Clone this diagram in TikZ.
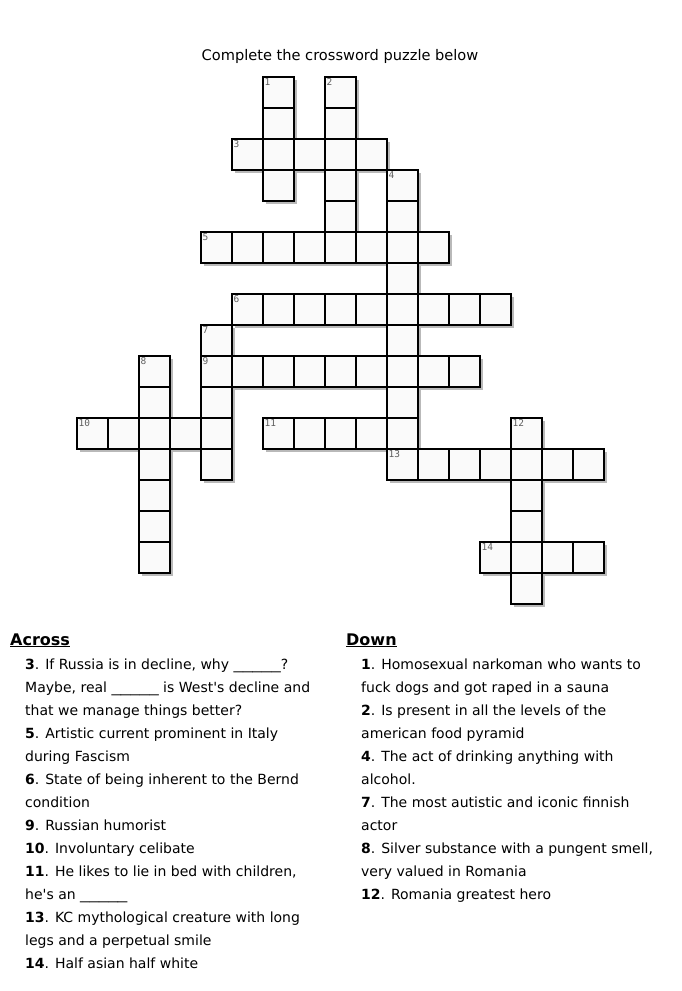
\documentclass[tikz,border=0pt]{standalone}
\usepackage{fontspec}
\setmainfont{DejaVu Sans}
\newfontfamily\numfont{DejaVu Sans Mono}
\usetikzlibrary{positioning}

\newcommand\gridcells{0/{6,8},1/{6,8},2/{5,6,7,8,9},3/{6,8,10},4/{8,10},5/{4,5,6,7,8,9,10,11},6/{10},7/{5,6,7,8,9,10,11,12,13},8/{4,10},9/{2,4,5,6,7,8,9,10,11,12},10/{2,4,10},11/{0,1,2,3,4,6,7,8,9,10,14},12/{2,4,10,11,12,13,14,15,16},13/{2,14},14/{2,14},15/{2,13,14,15,16},16/{14}}
\newcommand\blank{\scalebox{1.35}[1]{\_\_\_\_\_}}
\newcommand\q{\textquotesingle}

\begin{document}
\begin{tikzpicture}[x=1pt,y=-1pt,
	cell/.style={draw,rectangle,minimum size=31pt,inner sep=0pt,line width=1.3pt,fill=white!98!black},
	shade/.style={fill=gray!55},
	num/.style={anchor=north west,inner sep=2pt,text=gray!75!black,font=\numfont\fontsize{9.5}{9.5}\selectfont},
	head/.style={anchor=base west,inner sep=0pt,font=\bfseries\fontsize{16}{16}\selectfont},
	clue/.style={anchor=base west,inner sep=0pt,font=\fontsize{14}{16}\selectfont}]
	\useasboundingbox[fill=white] (0,0) rectangle (681,991);

	\node[font=\fontsize{14.6}{16}\selectfont] (title) at (340,56) {Complete the crossword puzzle below};

	\foreach \r/\cols in \gridcells
		\foreach \c in \cols
			\fill[shade] (80+31*\c,80+31*\r) rectangle ++(31,31);
	\foreach \r/\cols in \gridcells
		\foreach \c in \cols
			\node[cell] (cell-\c-\r) at (92.5+31*\c,92.5+31*\r) {};

	\foreach \n/\c/\r in {1/6/0,2/8/0,3/5/2,4/10/3,5/4/5,6/5/7,7/4/8,8/2/9,9/4/9,10/0/11,11/6/11,12/14/11,13/10/12,14/13/15}
		\node[num] (num\n) at (cell-\c-\r.north west) {\n};

	\node[head] (across) at (10,645) {\underline{Across}};
	\node[head] (down) at (346,645) {\underline{Down}};

	\foreach \t [count=\i from 0] in {
		{\textbf{3}. If Russia is in decline, why \blank?},
		{Maybe, real \blank\ is West\q s decline and},
		{that we manage things better?},
		{\textbf{5}. Artistic current prominent in Italy},
		{during Fascism},
		{\textbf{6}. State of being inherent to the Bernd},
		{condition},
		{\textbf{9}. Russian humorist},
		{\textbf{10}. Involuntary celibate},
		{\textbf{11}. He likes to lie in bed with children,},
		{he\q s an \blank},
		{\textbf{13}. KC mythological creature with long},
		{legs and a perpetual smile},
		{\textbf{14}. Half asian half white}}
		\node[clue] (across\i) at (25,669+23*\i) {\t};

	\foreach \t [count=\i from 0] in {
		{\textbf{1}. Homosexual narkoman who wants to},
		{fuck dogs and got raped in a sauna},
		{\textbf{2}. Is present in all the levels of the},
		{american food pyramid},
		{\textbf{4}. The act of drinking anything with},
		{alcohol.},
		{\textbf{7}. The most autistic and iconic finnish},
		{actor},
		{\textbf{8}. Silver substance with a pungent smell,},
		{very valued in Romania},
		{\textbf{12}. Romania greatest hero}}
		\node[clue] (down\i) at (361,669+23*\i) {\t};
\end{tikzpicture}
\end{document}
